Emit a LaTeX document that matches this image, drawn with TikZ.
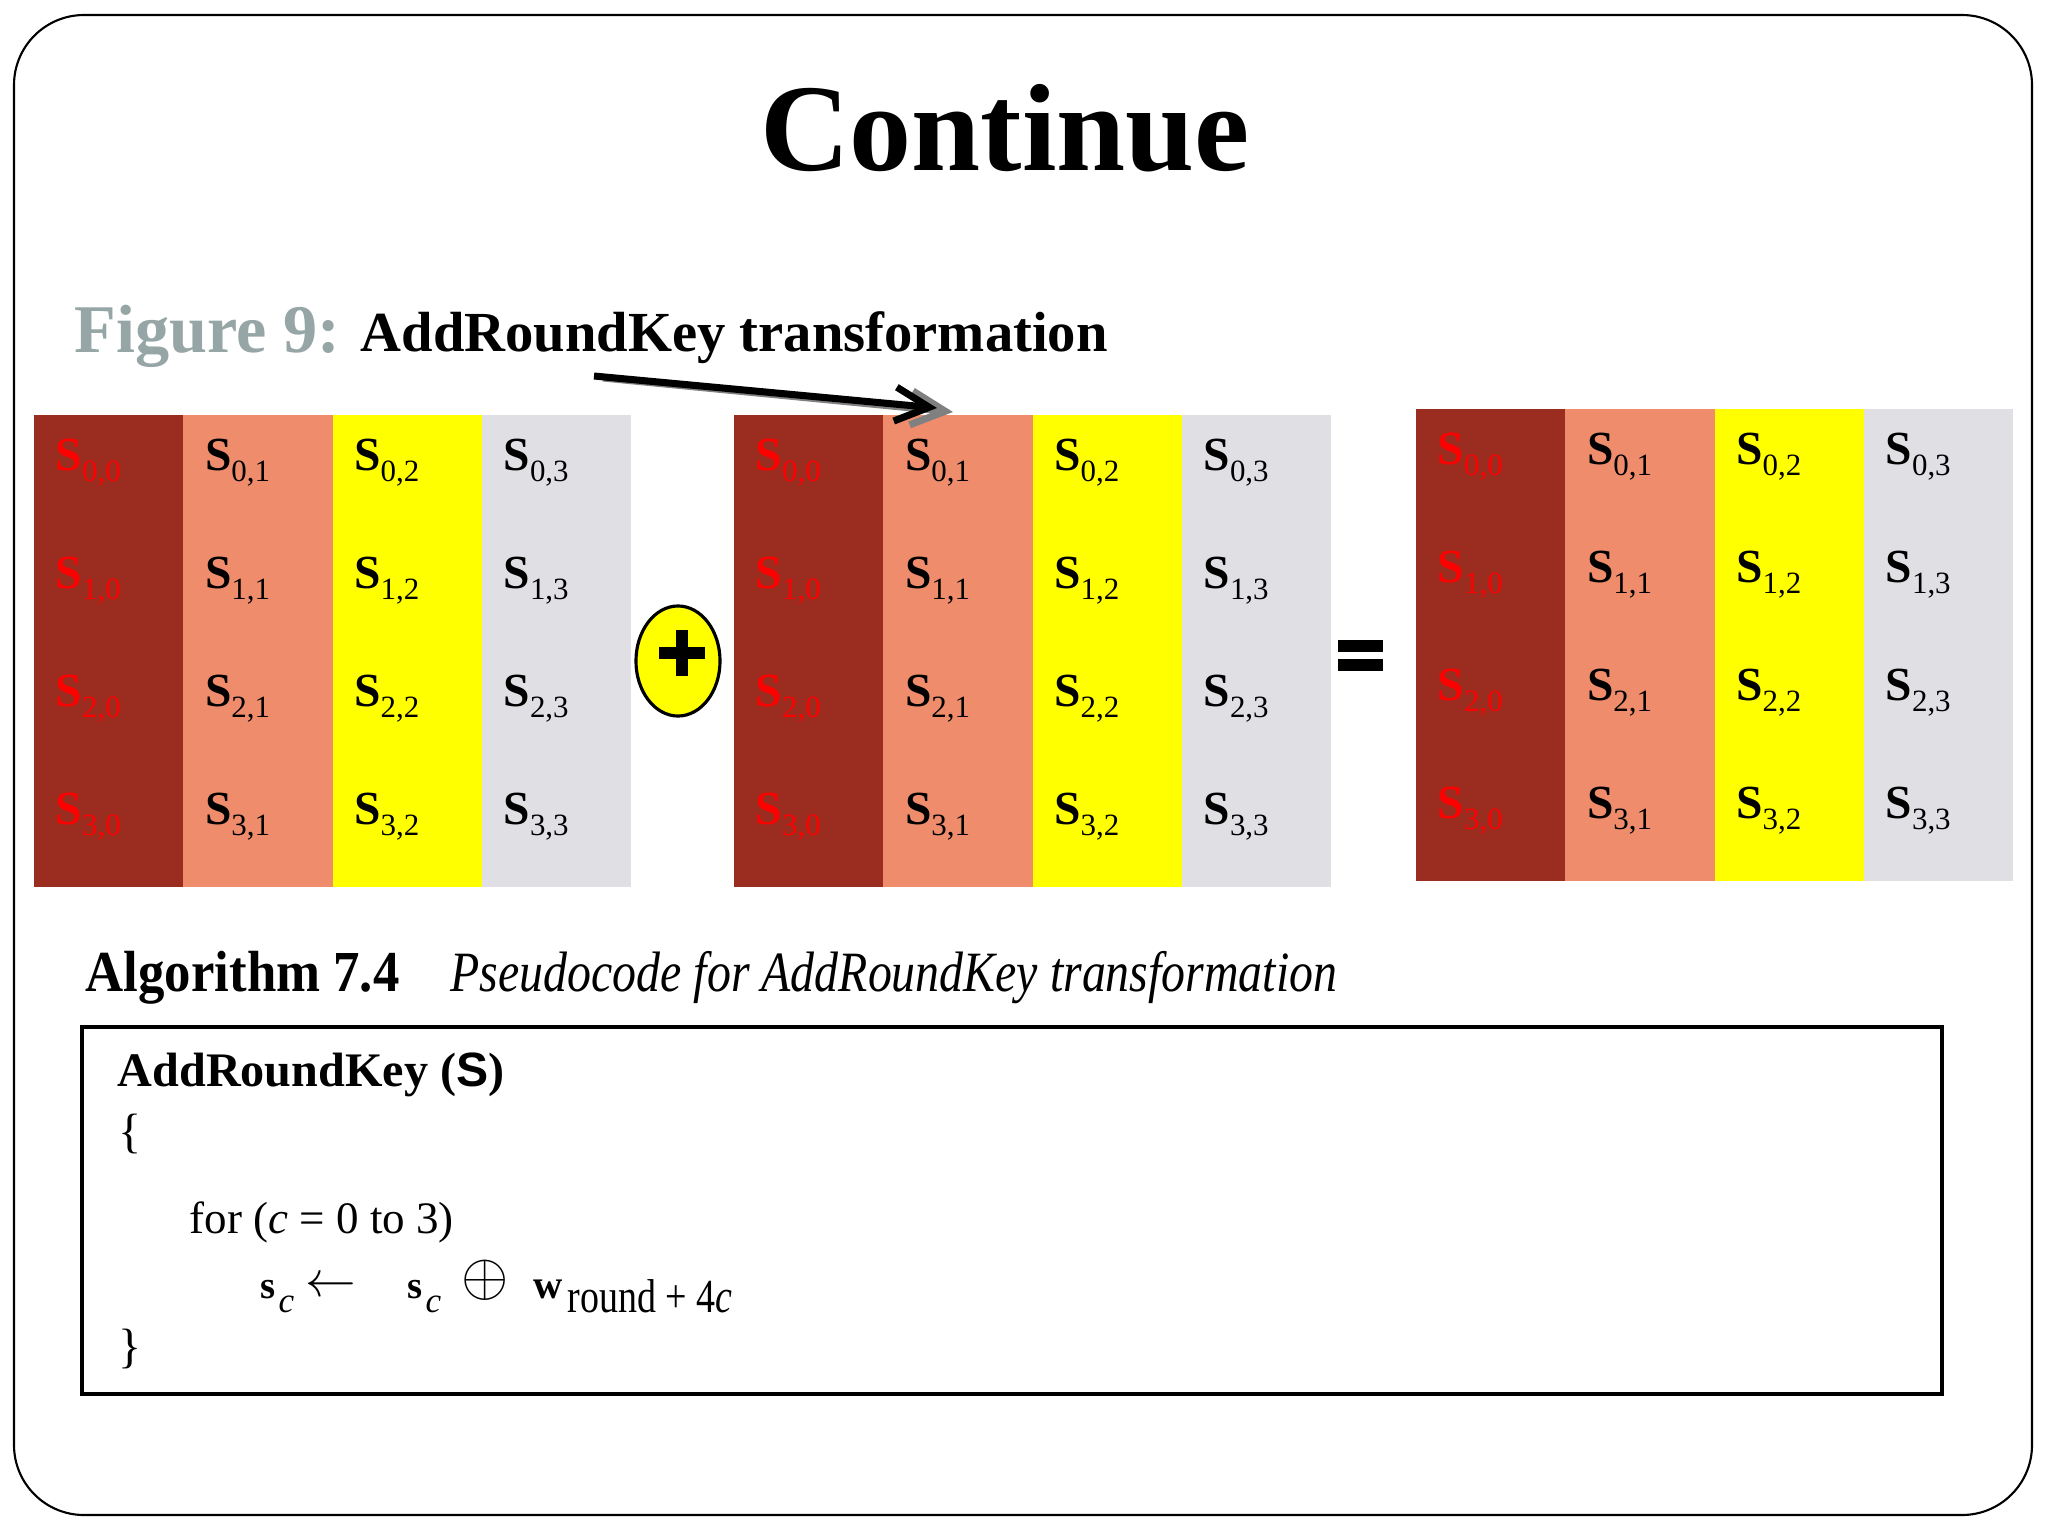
\documentclass[tikz,border=0pt]{standalone}
\usepackage{fontspec}
\setmainfont{Liberation Serif}
\newfontfamily\sansbold{Liberation Sans}
\newfontfamily\narrowserif[FakeStretch=0.91]{Liberation Serif}
\newfontfamily\narrowital[FakeStretch=0.84]{Liberation Serif}
\newfontfamily\subserif[FakeStretch=0.8]{Liberation Serif}
\usetikzlibrary{arrows.meta}
\usetikzlibrary{shapes.geometric}

\definecolor{brick}{RGB}{155,44,32}
\definecolor{salmon}{RGB}{238,140,108}
\definecolor{lemon}{RGB}{255,255,0}
\definecolor{mist}{RGB}{224,223,227}
\definecolor{figgray}{RGB}{150,165,165}
\definecolor{shadowgray}{RGB}{128,128,128}

\newcommand{\statecell}[2]{\textbf{S}\raisebox{-3.4pt}{\fontsize{8.8}{10}\selectfont #1,#2}}

\begin{document}
\begin{tikzpicture}[x=0.01cm,y=-0.01cm,
  txt/.style={inner sep=0pt,anchor=base west},
  cell text/.style={txt,font=\fontsize{13.5}{15}\selectfont},
  key arrow/.style={line width=2pt,-{Straight Barb[length=3.4mm,width=3.4mm]}},
  code/.style={txt,font=\fontsize{12.8}{15}\selectfont},
  code sub/.style={txt,font=\fontsize{13.5}{15}\selectfont\subserif},
  xor node/.style={ellipse,draw,fill=lemon,line width=0.9pt,minimum width=0.84cm,minimum height=1.1cm,inner sep=0pt}]

  \fill[white] (0,0) rectangle (2048,1536);
  \useasboundingbox (0,0) rectangle (2048,1536);
  \draw[line width=0.6pt,rounded corners=7mm] (14,15) rectangle (2032,1515);

  \node[inner sep=0pt,anchor=base,font=\fontsize{35.3}{40}\selectfont\bfseries] at (1005,170) (title) {Continue};

  \node[txt,font=\fontsize{19.4}{22}\selectfont\bfseries,text=figgray] at (74,352) (figlabel) {Figure 9:};
  \node[txt,font=\fontsize{16.1}{19}\selectfont\bfseries] at (360,351) (figname) {AddRoundKey transformation};

  % the three state matrices
  \foreach \g/\gx/\gy in {a/34/415,b/734/415,c/1416/409} {
    \foreach \c/\fillc/\textc in {0/brick/red,1/salmon/black,2/lemon/black,3/mist/black} {
      \fill[\fillc] ({\gx+\c*149.3},\gy) rectangle ++(149.3,472);
      \foreach \r in {0,...,3}
        \node[cell text,text=\textc] at ({\gx+\c*149.3+21},{\gy+55+\r*118}) (\g-\r-\c) {\statecell{\r}{\c}};
    }
  }

  \coordinate (arrstart) at (594,376);
  \coordinate (arrtip) at (937,408);
  \coordinate (shadowstart) at (603,378);
  \coordinate (shadowtip) at (953,412);
  \draw[key arrow,shadowgray] (shadowstart) -- (shadowtip);
  \draw[key arrow] (arrstart) -- (arrtip);

  \node[xor node] at (678,661) (xor) {};
  \draw[line width=3.4pt] (659,653) -- (705,653) (682,630) -- (682,676);

  \fill (1338,640) rectangle (1383,652);
  \fill (1338,659) rectangle (1383,671);

  \node[txt,font=\fontsize{16.5}{19}\selectfont\narrowserif\bfseries] at (85,991) (algno) {Algorithm 7.4};
  \node[txt,font=\fontsize{16.2}{19}\selectfont\narrowital\itshape] at (450,991) (algcap) {Pseudocode for AddRoundKey transformation};

  \draw[line width=1.2pt] (82,1027) rectangle (1942,1394);

  \node[txt,font=\fontsize{13.7}{16}\selectfont\bfseries] at (117,1086) (fname) {AddRoundKey ({\sansbold S})};
  \node[txt,font=\fontsize{13.7}{16}\selectfont] at (118,1147) (lbrace) {\{};
  \node[code] at (189,1233) (forline) {for (\textit{c} = 0 to 3)};
  \node[txt,font=\fontsize{11}{13}\selectfont\bfseries] at (260,1298) (lhs) {s};
  \node[code sub,font=\itshape] at (278,1312) (lhsc) {c};
  \node[txt,font=\fontsize{14.5}{16}\selectfont] at (305,1296) (gets) {$\leftarrow$};
  \node[txt,font=\fontsize{11}{13}\selectfont\bfseries] at (407,1298) (rhs) {s};
  \node[code sub,font=\itshape] at (425,1312) (rhsc) {c};
  \node[inner sep=0pt,font=\fontsize{19}{20}\selectfont] at (485,1280) (xorsym) {$\oplus$};
  \node[txt,font=\fontsize{11.5}{13}\selectfont\bfseries] at (533,1298) (wkey) {w};
  \node[code sub] at (567,1312) (wsub) {round + 4\textit{c}};
  \node[txt,font=\fontsize{13.7}{16}\selectfont] at (118,1362) (rbrace) {\}};

\end{tikzpicture}
\end{document}
